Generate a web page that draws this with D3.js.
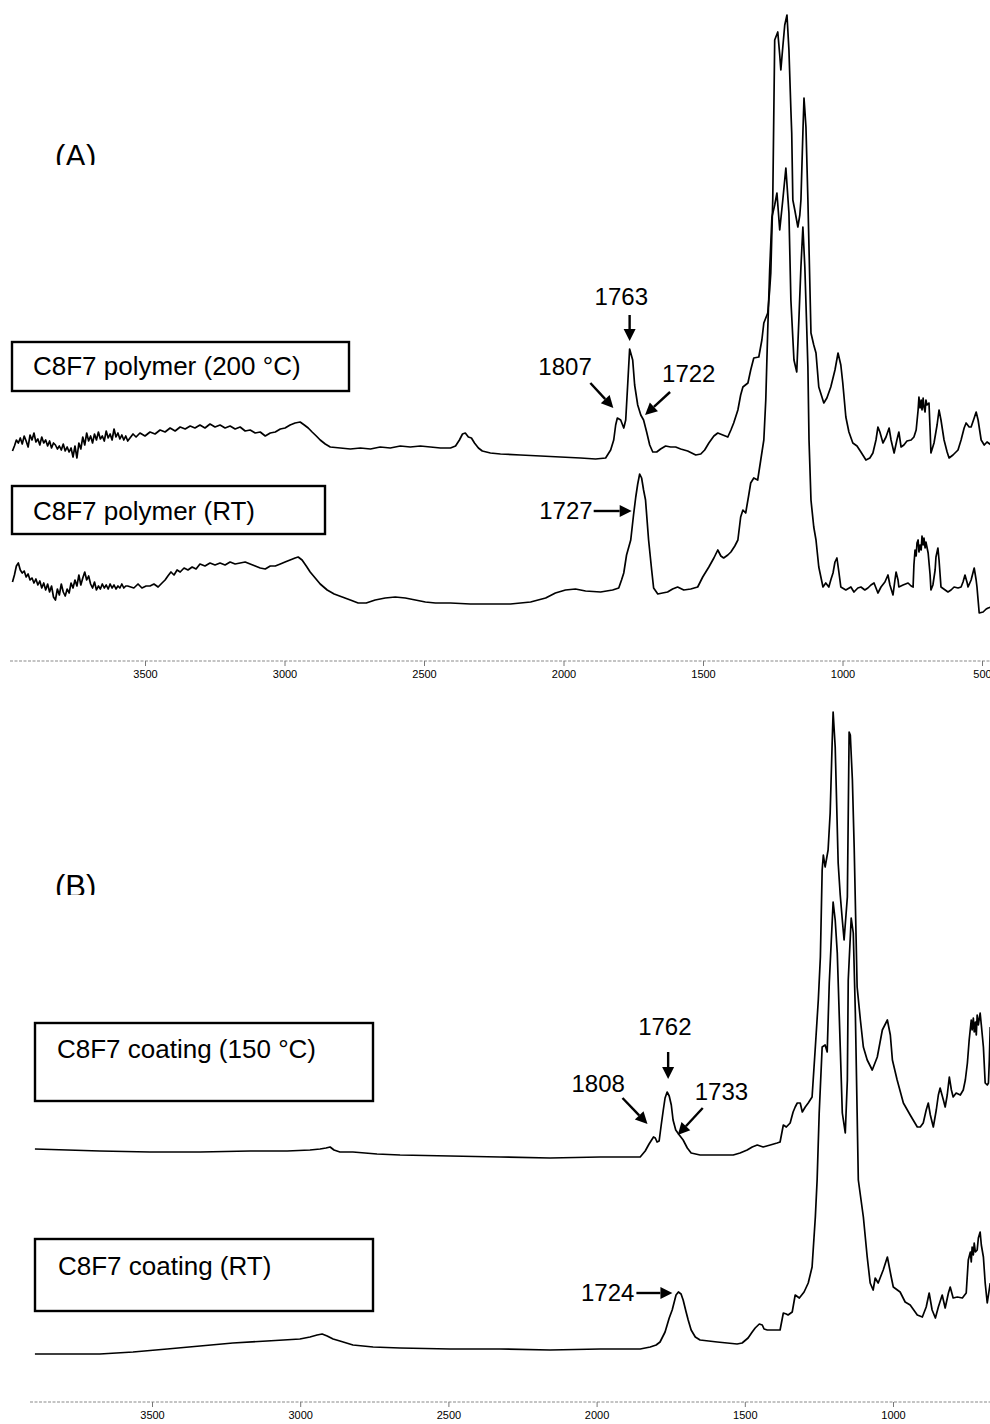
<!DOCTYPE html>
<html>
<head>
<meta charset="utf-8">
<script src="https://cdn.jsdelivr.net/npm/d3@7"></script>
<style>
  html, body { margin: 0; padding: 0; background: #fff; }
  svg { display: block; }
  text { font-family: "Liberation Sans", Arial, Helvetica, sans-serif; fill: #000; }
</style>
</head>
<body>
<div id="chart"></div>
<script>
// ---------------------------------------------------------------
// FTIR spectra of C8F7 polymer / coating, absorbance in a.u.
// Values already include the vertical offset used to stack traces.
// The first part of the panel-A spectra is sampled on a uniform
// grid (3975 cm-1 downward, 7 cm-1 step); the rest as [cm-1, a.u.].
// ---------------------------------------------------------------
const headGridStart = 3975;
const headGridStep = 7;

const polymer200Head = [33.8,34.8,36.0,35.4,36.4,35.2,36.8,35.8,34.6,37.0,
  36.0,37.4,35.6,36.2,35.0,36.6,35.4,36.0,34.8,35.8,
  34.4,35.4,35.0,34.2,34.8,34.0,35.2,33.8,34.6,33.6,
  34.4,32.6,34.8,32.4,35.4,34.2,36.6,35.0,37.4,35.8,
  36.8,35.4,37.2,36.0,37.6,36.2,36.8,35.8,37.8,36.4,
  37.2,36.0,38.2,36.6,37.4,36.2,37.0,36.0,36.8,35.8];

const polymer200Tail = [[3543,37.2],[3532,36.6],[3518,37.4],[3500,36.8],[3482,37.6],[3464,37.2],[3446,38.0],[3428,37.6],[3410,38.4],[3392,37.8],[3374,38.6],[3356,38.2],[3338,38.8],[3321,38.4],[3303,39.0],[3285,38.4],[3267,39.2],[3249,38.6],[3231,39.0],[3213,38.4],[3195,38.8],[3177,38.2],[3159,38.6],[3141,37.8],[3123,38.0],[3105,37.4],[3087,37.6],[3069,36.8],[3051,37.4],[3033,37.6],[3015,38.2],[2998,38.4],[2980,39.0],[2962,39.4],[2944,39.6],[2929,39.0],[2915,38.4],[2901,37.6],[2886,36.8],[2872,36.0],[2854,35.2],[2836,34.6],[2800,34.4],[2764,34.2],[2728,34.4],[2692,34.2],[2657,34.6],[2621,34.4],[2585,34.8],[2549,34.6],[2513,34.8],[2477,34.6],[2441,34.4],[2405,34.4],[2387,34.8],[2373,36.0],[2362,37.2],[2352,37.4],[2341,36.6],[2330,36.4],[2319,35.4],[2305,34.4],[2291,33.8],[2262,33.4],[2226,33.2],[2154,33.0],[2082,32.8],[2011,32.6],[1939,32.4],[1885,32.2],[1849,32.4],[1831,34.0],[1820,36.0],[1813,39.0],[1807,40.4],[1795,40.0],[1784,38.4],[1777,40.0],[1770,47.0],[1763,54.2],[1752,52.0],[1745,47.0],[1734,43.0],[1723,41.0],[1713,40.0],[1702,37.6],[1691,35.0],[1680,33.6],[1666,33.6],[1652,34.2],[1634,34.8],[1616,34.6],[1598,34.6],[1580,34.2],[1555,33.8],[1526,33.0],[1508,33.2],[1494,34.0],[1479,35.4],[1461,36.8],[1447,37.4],[1429,37.0],[1411,36.6],[1400,38.0],[1390,39.4],[1375,42.0],[1365,45.0],[1357,46.6],[1339,47.4],[1329,50.0],[1318,52.4],[1300,52.6],[1289,56.0],[1282,59.4],[1268,61.4],[1261,66.0],[1257,69.4],[1250,84.0],[1243,116.0],[1232,117.6],[1225,113.0],[1221,110.0],[1214,114.6],[1207,119.0],[1199,121.0],[1192,114.0],[1185,102.0],[1182,97.4],[1178,84.0],[1171,82.0],[1160,78.6],[1153,81.0],[1149,84.0],[1142,97.4],[1138,104.4],[1135,102.0],[1131,98.6],[1124,84.0],[1113,57.4],[1103,55.0],[1095,53.4],[1085,46.6],[1067,43.4],[1056,44.4],[1042,46.6],[1027,50.0],[1016,53.4],[1006,51.0],[999,47.4],[988,40.6],[977,37.6],[963,35.4],[948,34.8],[934,33.6],[916,32.0],[902,32.4],[891,33.4],[880,36.0],[873,38.6],[866,37.6],[855,35.4],[844,36.6],[833,38.4],[826,36.0],[815,33.4],[805,36.0],[798,37.6],[790,34.6],[780,35.0],[769,35.8],[754,36.0],[744,36.6],[736,38.0],[729,42.0],[726,44.6],[722,42.4],[718,44.0],[715,42.0],[711,44.4],[708,42.6],[704,41.6],[701,44.0],[697,43.0],[690,43.4],[686,38.0],[683,33.4],[672,35.4],[661,39.0],[654,42.0],[647,40.0],[636,36.0],[625,33.6],[618,32.4],[604,33.0],[586,34.0],[575,36.0],[564,38.4],[557,39.4],[546,38.6],[539,38.6],[528,40.4],[521,41.6],[514,40.0],[503,36.0],[492,35.0],[482,35.6],[467,35.0]];

const polymerRTHead = [7.6,9.0,10.8,11.4,10.0,9.4,9.8,8.6,9.2,8.0,
  8.4,7.4,8.2,7.0,7.8,6.4,7.4,6.0,7.2,5.6,
  6.8,4.6,4.0,6.2,5.0,7.2,5.6,4.8,6.2,5.4,
  7.4,6.4,8.0,6.8,9.0,7.0,8.4,9.6,8.0,8.8,
  7.2,6.4,7.6,6.0,6.8,6.2,7.2,6.4,7.0,6.2,
  7.2,6.4,7.0,6.2,6.8,6.4,7.2,6.4,6.8,6.8];

const polymerRTTail = [[3540,6.4],[3525,7.2],[3511,6.4],[3496,6.8],[3482,6.8],[3468,7.2],[3453,6.6],[3439,7.4],[3428,8.0],[3418,8.8],[3407,9.6],[3396,9.0],[3385,10.0],[3374,9.6],[3360,10.4],[3346,10.0],[3331,10.6],[3317,10.2],[3303,11.2],[3285,10.8],[3267,11.4],[3249,11.0],[3231,11.4],[3213,11.0],[3195,11.6],[3177,11.2],[3159,11.4],[3141,11.6],[3123,11.2],[3105,10.8],[3087,10.4],[3069,10.2],[3051,10.8],[3033,10.8],[3015,11.2],[2998,11.6],[2980,12.0],[2962,12.4],[2951,12.6],[2937,12.0],[2922,10.8],[2908,9.6],[2890,8.4],[2872,7.2],[2847,6.0],[2822,5.2],[2793,4.6],[2764,4.0],[2736,3.4],[2707,3.4],[2675,4.0],[2639,4.4],[2603,4.6],[2567,4.4],[2531,4.0],[2495,3.6],[2459,3.4],[2405,3.4],[2334,3.2],[2262,3.2],[2190,3.2],[2118,3.6],[2064,4.4],[2029,5.4],[1993,6.0],[1957,6.2],[1921,5.8],[1867,5.6],[1824,6.0],[1802,6.4],[1792,8.0],[1784,9.4],[1774,13.0],[1759,16.0],[1749,21.0],[1741,24.6],[1734,27.2],[1727,29.2],[1720,28.4],[1713,26.0],[1706,24.0],[1695,16.0],[1684,10.0],[1677,6.4],[1662,5.2],[1645,5.4],[1627,5.6],[1609,6.2],[1591,6.6],[1569,6.0],[1544,6.2],[1519,6.6],[1501,8.6],[1479,10.6],[1461,12.4],[1447,14.0],[1436,12.8],[1426,12.4],[1411,13.0],[1400,13.6],[1386,14.8],[1375,16.0],[1365,20.6],[1357,22.0],[1347,21.4],[1336,25.0],[1329,27.4],[1318,28.4],[1304,28.0],[1293,32.0],[1282,36.0],[1275,44.0],[1268,58.0],[1261,70.0],[1253,80.6],[1243,83.0],[1235,85.4],[1225,78.0],[1214,84.0],[1203,90.4],[1192,81.4],[1185,64.0],[1174,52.0],[1164,49.6],[1156,60.6],[1149,70.6],[1142,78.6],[1135,70.6],[1128,58.0],[1124,50.6],[1120,36.0],[1113,24.0],[1103,18.6],[1095,16.0],[1085,10.6],[1070,6.6],[1060,7.4],[1049,6.6],[1042,8.0],[1034,9.4],[1027,11.6],[1020,12.4],[1013,9.6],[1006,6.6],[988,6.0],[970,6.6],[959,5.6],[945,6.4],[934,6.6],[920,6.0],[909,6.4],[898,7.0],[887,7.4],[880,6.4],[873,5.4],[862,6.6],[848,7.6],[837,9.0],[830,7.0],[819,5.0],[812,8.0],[808,9.6],[801,8.0],[798,6.6],[783,7.0],[765,7.4],[754,6.8],[747,6.6],[744,11.0],[740,14.0],[736,12.8],[733,15.4],[729,16.0],[726,13.6],[722,15.0],[718,14.0],[715,16.8],[711,15.0],[708,16.4],[704,14.4],[701,15.6],[693,13.4],[686,9.0],[683,6.0],[676,7.0],[668,10.0],[665,12.6],[658,14.4],[654,12.0],[647,6.6],[632,6.0],[622,5.6],[611,6.0],[600,6.6],[586,6.4],[575,6.6],[568,7.6],[561,9.0],[553,7.4],[550,6.6],[539,8.0],[528,10.4],[521,8.0],[518,6.6],[514,4.0],[510,1.4],[496,1.6],[485,2.2],[478,2.4],[467,2.6]];

const coating150 = [[3895,46.2],[3676,45.8],[3507,45.6],[3338,45.6],[3169,45.8],[3044,45.8],[2967,46.0],[2933,46.2],[2913,46.4],[2899,46.6],[2886,46.0],[2866,45.6],[2822,45.6],[2741,45.2],[2663,45.0],[2494,44.8],[2326,44.6],[2157,44.4],[1988,44.6],[1853,44.6],[1836,45.8],[1823,47.2],[1808,48.6],[1802,48.4],[1796,47.6],[1789,47.8],[1782,51.0],[1775,54.0],[1769,56.4],[1762,57.6],[1755,56.8],[1748,55.0],[1742,52.0],[1733,50.0],[1721,49.0],[1708,48.0],[1694,46.4],[1681,45.4],[1651,45.0],[1539,45.0],[1516,45.4],[1492,46.0],[1475,46.6],[1458,47.0],[1448,46.8],[1438,46.6],[1414,47.0],[1391,47.4],[1381,47.6],[1370,51.0],[1360,50.6],[1347,51.4],[1337,53.6],[1330,54.6],[1323,55.4],[1313,55.4],[1306,53.6],[1296,54.6],[1286,55.4],[1273,56.6],[1262,66.6],[1252,76.0],[1245,84.6],[1239,102.0],[1235,105.0],[1229,102.6],[1219,106.0],[1212,113.4],[1205,128.0],[1202,133.6],[1195,126.6],[1185,103.4],[1178,97.0],[1171,92.0],[1165,88.0],[1154,96.6],[1148,129.6],[1144,129.0],[1137,120.0],[1131,106.6],[1121,78.6],[1110,72.0],[1100,66.6],[1087,64.0],[1070,62.0],[1053,64.6],[1036,70.0],[1019,72.0],[1009,69.0],[1002,64.0],[986,60.0],[965,55.4],[942,53.0],[918,50.6],[908,50.6],[898,51.4],[888,54.0],[881,55.4],[874,53.0],[864,50.6],[854,54.0],[847,57.0],[841,58.4],[830,56.0],[824,54.6],[817,57.0],[810,60.6],[803,58.0],[797,56.6],[787,57.4],[773,57.0],[763,58.0],[756,60.0],[749,63.4],[743,68.0],[736,72.0],[733,70.0],[729,72.4],[726,69.6],[722,71.6],[719,69.0],[716,73.0],[712,71.0],[706,73.4],[702,71.0],[695,66.6],[689,59.4],[682,59.0],[678,59.4],[675,64.0],[672,70.6]];

const coatingRT = [[3895,5.2],[3676,5.2],[3564,5.6],[3449,6.2],[3338,6.8],[3227,7.4],[3112,7.8],[3001,8.2],[2967,8.6],[2943,9.0],[2926,9.2],[2909,8.8],[2889,8.2],[2866,7.8],[2822,7.0],[2754,6.6],[2663,6.4],[2494,6.2],[2326,6.2],[2157,6.0],[1988,6.2],[1853,6.2],[1819,6.6],[1799,7.0],[1786,7.6],[1769,9.6],[1755,12.4],[1745,14.0],[1732,17.0],[1724,17.6],[1715,17.2],[1708,16.0],[1698,13.6],[1691,12.0],[1681,10.0],[1667,8.6],[1651,8.0],[1593,7.6],[1526,7.2],[1509,7.4],[1489,8.4],[1475,9.6],[1465,10.4],[1451,11.2],[1441,11.0],[1435,10.2],[1424,10.0],[1408,10.0],[1381,10.0],[1370,13.4],[1360,13.2],[1354,13.0],[1340,13.6],[1330,17.0],[1316,16.4],[1300,17.6],[1286,19.4],[1273,22.6],[1262,32.6],[1256,40.0],[1249,53.4],[1239,66.6],[1229,67.0],[1222,65.6],[1215,79.4],[1202,95.6],[1195,92.0],[1188,85.4],[1178,66.6],[1171,53.4],[1161,49.4],[1154,60.0],[1151,80.0],[1141,92.4],[1134,89.4],[1127,73.4],[1121,53.4],[1117,40.0],[1100,32.6],[1087,24.6],[1077,19.4],[1067,18.0],[1060,20.4],[1050,19.4],[1033,22.0],[1019,24.6],[1006,20.6],[999,18.6],[976,17.6],[959,15.6],[942,15.0],[918,13.0],[901,12.6],[888,14.6],[878,17.4],[868,14.0],[857,12.4],[847,14.6],[834,17.0],[824,14.4],[813,17.4],[807,18.6],[797,16.4],[783,16.6],[766,16.4],[753,17.4],[746,24.0],[739,25.6],[736,23.6],[733,26.6],[729,25.0],[726,27.4],[722,25.6],[716,26.0],[712,28.4],[706,29.6],[702,27.0],[695,24.6],[689,19.4],[682,15.4],[672,19.4]];

// tick labels (wavenumber, cm-1)
const ticksA = [3500, 3000, 2500, 2000, 1500, 1000, 500];
const ticksB = [3500, 3000, 2500, 2000, 1500, 1000];

// trace names
const namesA = ["C8F7 polymer (200 \u00B0C)", "C8F7 polymer (RT)"];
const namesB = ["C8F7 coating (150 \u00B0C)", "C8F7 coating (RT)"];

// labelled band positions (cm-1)
const bandsA200 = [1763, 1807, 1722];
const bandsART = [1727];
const bandsB150 = [1762, 1808, 1733];
const bandsBRT = [1724];

// ---------------------------------------------------------------
const W = 990, H = 1424;
const svg = d3.select("#chart").append("svg")
  .attr("width", W).attr("height", H)
  .attr("viewBox", `0 0 ${W} ${H}`);

const gridHead = vals => vals.map((v, i) => [headGridStart - headGridStep * i, v]);
const polymer200 = gridHead(polymer200Head).concat(polymer200Tail);
const polymerRT = gridHead(polymerRTHead).concat(polymerRTTail);

// scales
const xA = d3.scaleLinear().domain([3500, 500]).range([145, 982]);
const yA = d3.scaleLinear().domain([0, 120]).range([620, 20]);
const xB = d3.scaleLinear().domain([3500, 1000]).range([152, 893]);
const yB = d3.scaleLinear().domain([0, 120]).range([1380, 780]);

function drawTrace(data, xs, ys) {
  const line = d3.line().x(d => xs(d[0])).y(d => ys(d[1]));
  svg.append("path")
    .datum(data)
    .attr("d", line)
    .attr("fill", "none")
    .attr("stroke", "#000")
    .attr("stroke-width", 1.7)
    .attr("stroke-linejoin", "round");
}

drawTrace(polymer200, xA, yA);
drawTrace(polymerRT, xA, yA);
drawTrace(coating150, xB, yB);
drawTrace(coatingRT, xB, yB);

// wavenumber axes
function drawAxis(xs, ticks, yPos, x0, x1) {
  svg.append("line")
    .attr("x1", x0).attr("x2", x1).attr("y1", yPos).attr("y2", yPos)
    .attr("stroke", "#8a8a8a").attr("stroke-width", 1.1)
    .attr("stroke-dasharray", "3 1.5");
  const g = svg.append("g").attr("transform", `translate(0,${yPos})`)
    .call(d3.axisBottom(xs).tickValues(ticks).tickSize(5).tickPadding(4)
      .tickFormat(d3.format("d")));
  g.select(".domain").remove();
  g.selectAll(".tick line").attr("stroke", "#777").attr("stroke-width", 1);
  g.selectAll(".tick text")
    .attr("fill", "#111")
    .style("font-family", '"Liberation Sans", Arial, sans-serif')
    .style("font-size", "11px");
}
drawAxis(xA, ticksA, 661, 10, 990);
drawAxis(xB, ticksB, 1402, 30, 990);

// panel letters, cut at the bottom
const defs = svg.append("defs");
function panelLetter(id, label, x, baseline, clipBottom) {
  defs.append("clipPath").attr("id", id)
    .append("rect").attr("x", 0).attr("y", baseline - 40)
    .attr("width", 200).attr("height", clipBottom - (baseline - 40));
  svg.append("text")
    .attr("clip-path", `url(#${id})`)
    .attr("x", x).attr("y", baseline)
    .style("font-size", "31px")
    .text(label);
}
panelLetter("clipA", "(A)", 55, 167, 165);
panelLetter("clipB", "(B)", 55, 897, 895);

// legend boxes
function nameBox(label, bx, by, bw, bh, tx, ty) {
  svg.append("rect")
    .attr("x", bx).attr("y", by).attr("width", bw).attr("height", bh)
    .attr("fill", "none").attr("stroke", "#000").attr("stroke-width", 2.4);
  svg.append("text").attr("x", tx).attr("y", ty)
    .style("font-size", "26px").text(label);
}
nameBox(namesA[0], 12, 342, 337, 49, 33, 375);
nameBox(namesA[1], 12, 486, 313, 48, 33, 520);
nameBox(namesB[0], 35, 1023, 338, 78, 57, 1058);
nameBox(namesB[1], 35, 1239, 338, 72, 58, 1275);

// annotation arrows
function arrow(x1, y1, x2, y2) {
  const ang = Math.atan2(y2 - y1, x2 - x1);
  const len = 12, half = 6;
  const bx = x2 - len * Math.cos(ang), by = y2 - len * Math.sin(ang);
  svg.append("line")
    .attr("x1", x1).attr("y1", y1).attr("x2", bx).attr("y2", by)
    .attr("stroke", "#000").attr("stroke-width", 2.4);
  const px = -Math.sin(ang), py = Math.cos(ang);
  svg.append("path")
    .attr("d", `M${x2},${y2}L${bx + half * px},${by + half * py}L${bx - half * px},${by - half * py}Z`)
    .attr("fill", "#000");
}
function bandLabel(text, x, y, anchor) {
  svg.append("text").attr("x", x).attr("y", y)
    .attr("text-anchor", anchor || "start")
    .style("font-size", "24px").text(text);
}

// panel A, 200 °C
{
  const [b0, b1, b2] = bandsA200.map(w => xA(w));
  bandLabel(String(bandsA200[0]), b0 - 35, 305);
  arrow(b0, 315, b0, 341);
  bandLabel(String(bandsA200[1]), b1 - 79, 375);
  arrow(b1 - 27, 383, b1 - 4, 408);
  bandLabel(String(bandsA200[2]), b2 + 21, 382);
  arrow(b2 + 29, 392, b2 + 4, 415);
}
// panel A, RT
{
  const b = xA(bandsART[0]);
  bandLabel(String(bandsART[0]), b - 47, 519, "end");
  arrow(b - 46, 511, b - 8, 511);
}
// panel B, 150 °C
{
  const [b0, b1, b2] = bandsB150.map(w => xB(w));
  bandLabel(String(bandsB150[0]), b0 - 29, 1035);
  arrow(b0 + 1, 1052, b0 + 1, 1079);
  bandLabel(String(bandsB150[1]), b1 - 82, 1092);
  arrow(b1 - 31, 1098, b1 - 6, 1124);
  bandLabel(String(bandsB150[2]), b2 + 19, 1100);
  arrow(b2 + 27, 1108, b2 + 2, 1135);
}
// panel B, RT
{
  const b = xB(bandsBRT[0]);
  bandLabel(String(bandsBRT[0]), b - 44, 1301, "end");
  arrow(b - 42, 1293, b - 6, 1293);
}
</script>
</body>
</html>
